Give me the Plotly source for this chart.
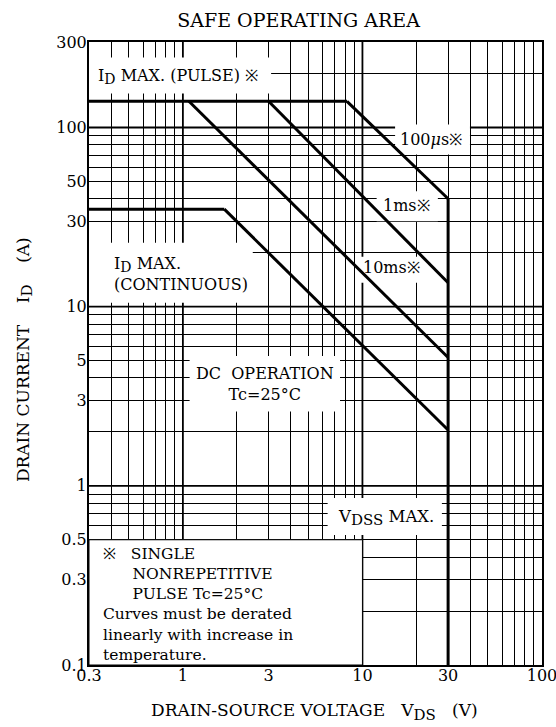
import math
import plotly.graph_objects as go

# ---------------- data ----------------
x_tick_vals = [0.3, 1, 3, 10, 30, 100]
x_tick_text = ["0.3", "1", "3", "10", "30", "100"]
y_tick_vals = [0.1, 0.3, 0.5, 1, 3, 5, 10, 30, 50, 100, 300]
y_tick_text = ["0.1", "0.3", "0.5", "1", "3", "5", "10", "30", "50", "100", "300"]

x_grid = [0.3, 0.4, 0.5, 0.6, 0.7, 0.8, 0.9,
          1, 2, 3, 4, 5, 6, 7, 8, 9,
          10, 20, 30, 40, 50, 60, 70, 80, 90, 100]
y_grid = [0.1, 0.2, 0.3, 0.4, 0.5, 0.6, 0.7, 0.8, 0.9,
          1, 2, 3, 4, 5, 6, 7, 8, 9,
          10, 20, 30, 40, 50, 60, 70, 80, 90,
          100, 200, 300]
x_decades = [1, 10]
y_decades = [1, 10, 100]

pulse_v = [0.3, 8.2]
pulse_i = [140, 140]
cont_v = [0.3, 1.7]
cont_i = [35, 35]
dc_v = [1.7, 30]
dc_i = [35, 2.05]
ms10_v = [1.08, 30]
ms10_i = [140, 5.2]
ms1_v = [3.0, 30]
ms1_i = [140, 13.6]
us100_v = [8.2, 30]
us100_i = [140, 40]
vdss_v = [30, 30]
vdss_i = [40, 0.1]

X_RANGE = [0.3, 100]
Y_RANGE = [0.1, 300]

FONT = "DejaVu Serif, Liberation Serif, serif"
NB = "\u00a0"


def sub(t, px):
    return "<sub><span style='font-size:%dpx'>%s</span></sub>" % (px, t)


def fx(v):
    a, b = math.log10(X_RANGE[0]), math.log10(X_RANGE[1])
    return (math.log10(v) - a) / (b - a)


def fy(i):
    a, b = math.log10(Y_RANGE[0]), math.log10(Y_RANGE[1])
    return (math.log10(i) - a) / (b - a)


fig = go.Figure()

for vv, ii in [(pulse_v, pulse_i), (cont_v, cont_i), (dc_v, dc_i),
               (ms10_v, ms10_i), (ms1_v, ms1_i), (us100_v, us100_i),
               (vdss_v, vdss_i)]:
    fig.add_trace(go.Scatter(x=vv, y=ii, mode="lines",
                             line=dict(color="black", width=3),
                             hoverinfo="skip", showlegend=False))

shapes = []
# slightly heavier decade grid lines (data coordinates)
for d in x_decades:
    shapes.append(dict(type="line", xref="x", yref="y",
                       x0=d, x1=d, y0=Y_RANGE[0], y1=Y_RANGE[1],
                       line=dict(color="black", width=1.8), layer="between"))
for d in y_decades:
    shapes.append(dict(type="line", xref="x", yref="y",
                       x0=X_RANGE[0], x1=X_RANGE[1], y0=d, y1=d,
                       line=dict(color="black", width=1.8), layer="between"))

# white label backgrounds (between gridlines and traces), data coordinates
boxes = [
    (0.3, 3.1, 155, 246),      # ID MAX (PULSE)
    (15.2, 39.7, 70.6, 104),   # 100us
    (12.0, 26.3, 30.0, 44.0),  # 1ms
    (9.3, 22.8, 13.6, 19.0),   # 10ms
    (0.3, 2.45, 10.5, 22.7),   # ID MAX continuous
    (1.09, 7.5, 2.6, 5.3),     # DC operation
    (6.4, 27.7, 0.532, 0.856), # VDSS max
]
for x0, x1, y0, y1 in boxes:
    shapes.append(dict(type="rect", xref="x", yref="y",
                       x0=x0, x1=x1, y0=y0, y1=y1,
                       fillcolor="white", line=dict(width=0), layer="between"))
# note box
shapes.append(dict(type="rect", xref="x", yref="y",
                   x0=0.3, x1=10, y0=0.1, y1=0.5,
                   fillcolor="white", line=dict(color="black", width=1),
                   layer="between"))

annos = []


def add_text(text, v, i, xanchor="center", size=16, align="center"):
    annos.append(dict(text=text, x=fx(v), y=fy(i), xref="paper", yref="paper",
                      xanchor=xanchor, yanchor="middle", showarrow=False,
                      align=align, font=dict(family=FONT, size=size, color="black")))


add_text("I" + sub("D", 14) + " MAX. (PULSE) ※", 0.33, 192, xanchor="left")
add_text("100<i>μ</i>s※", 24.1, 85.6)
add_text("1ms※", 17.5, 36.8)
add_text("10ms※", 14.5, 16.6)
add_text("I" + sub("D", 14) + " MAX.<br>(CONTINUOUS)", 0.404, 15.2,
         xanchor="left", align="left")
add_text("DC" + NB + " OPERATION<br>Tc=25°C", 2.86, 3.69)
add_text("V" + sub("DSS", 15) + " MAX.", 13.5, 0.662, size=16.5)
note = ("※" + NB * 3 + "SINGLE<br>"
        + NB * 6 + "NONREPETITIVE<br>"
        + NB * 6 + "PULSE Tc=25°C<br>"
        + "Curves must be derated<br>"
        + "linearly with increase in<br>"
        + "temperature.")
add_text(note, 0.351, 0.219, xanchor="left", align="left", size=15.5)

# axis titles
annos.append(dict(text="DRAIN-SOURCE VOLTAGE" + NB * 3 + "V" + sub("DS", 15) + NB * 3 + "(V)",
                  x=0.4967, y=-0.0754, xref="paper", yref="paper",
                  xanchor="center", yanchor="middle", showarrow=False,
                  font=dict(family=FONT, size=17, color="black")))
annos.append(dict(text="DRAIN CURRENT" + NB * 4 + "I" + sub("D", 15) + NB * 4 + "(A)",
                  x=-0.1413, y=0.491, xref="paper", yref="paper", textangle=-90,
                  xanchor="center", yanchor="middle", showarrow=False,
                  font=dict(family=FONT, size=17, color="black")))


def minor_vals(grid, vals):
    return [g for g in grid if g not in vals]


axis_common = dict(type="log", showgrid=True, gridcolor="black", gridwidth=1,
                   showline=True, linecolor="black", linewidth=2, mirror=True,
                   ticks="", zeroline=False, tickmode="array",
                   ticklabeloverflow="allow", automargin=False,
                   tickfont=dict(family=FONT, size=16, color="black"))

fig.update_layout(
    width=556, height=727,
    margin=dict(l=89, r=14, t=42, b=62, autoexpand=False),
    paper_bgcolor="white", plot_bgcolor="white",
    title=dict(text="SAFE OPERATING AREA", x=0.537, xref="container", xanchor="center",
               y=0.9725, yref="container", yanchor="middle",
               font=dict(family=FONT, size=19, color="black")),
    xaxis=dict(range=[math.log10(X_RANGE[0]), math.log10(X_RANGE[1])],
               tickvals=x_tick_vals, ticktext=x_tick_text, ticklabelstandoff=-5,
               minor=dict(tickmode="array", tickvals=minor_vals(x_grid, x_tick_vals),
                          showgrid=True, gridcolor="black", gridwidth=1, ticks=""),
               **axis_common),
    yaxis=dict(range=[math.log10(Y_RANGE[0]), math.log10(Y_RANGE[1])],
               tickvals=y_tick_vals, ticktext=y_tick_text, ticklabelstandoff=-3,
               minor=dict(tickmode="array", tickvals=minor_vals(y_grid, y_tick_vals),
                          showgrid=True, gridcolor="black", gridwidth=1, ticks=""),
               **axis_common),
    shapes=shapes,
    annotations=annos,
)

# remove the default 8px page margin so the figure fills the window exactly
fig.write_html("out.html", config={"displayModeBar": False},
               post_script="document.body.style.margin='0';")
